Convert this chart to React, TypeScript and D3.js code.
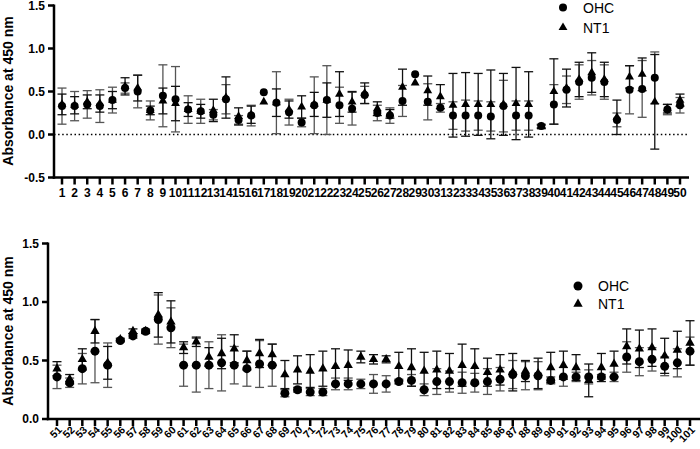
import React from "react";
import * as d3 from "d3";

const topCats = d3.range(1, 51);
const ohcTopMean = [0.33,0.33,0.35,0.33,0.40,0.54,0.50,0.28,0.45,0.41,0.29,0.27,0.23,0.41,0.17,0.22,0.49,0.37,0.26,0.14,0.34,0.40,0.34,0.30,0.46,0.25,0.22,0.39,0.70,0.38,0.31,0.22,0.22,0.22,0.21,0.33,0.22,0.22,0.10,0.35,0.52,0.61,0.66,0.61,0.17,0.52,0.53,0.66,0.29,0.34];
const ohcTopErr = [0.21,0.17,0.16,0.19,0.15,0.06,0.19,0.11,0.36,0.38,0.16,0.14,0.06,0.17,0.05,0.12,0,0.36,0.15,0.05,0.33,0.40,0.21,0.19,0.10,0.09,0.09,0.18,0,0.21,0.05,0.16,0.18,0.17,0.17,0.30,0.17,0.17,0.02,0.23,0.16,0.20,0.20,0.20,0.08,0.28,0.33,0.30,0.06,0.09];
const nt1TopMean = [0.35,0.34,0.38,0.36,0.40,0.56,0.54,0.28,0.39,0.36,0.29,0.27,0.28,0.43,0.21,0.23,0.38,0.37,0.29,0.32,0.35,0.40,0.47,0.38,0.48,0.30,0.24,0.55,0.60,0.51,0.44,0.34,0.35,0.35,0.35,0.35,0.36,0.35,0.09,0.50,0.54,0.64,0.72,0.64,0.20,0.67,0.70,0.38,0.30,0.40];
const nt1TopErr = [0.12,0.10,0.08,0.10,0.10,0.10,0.15,0.05,0.15,0.20,0.08,0.08,0.13,0.24,0.10,0.10,0,0.16,0.10,0.13,0.14,0.20,0.26,0.12,0.12,0.08,0.05,0.21,0,0.17,0.14,0.37,0.37,0.36,0.40,0.36,0.42,0.38,0.02,0.38,0.22,0.20,0.23,0.20,0.20,0.13,0.19,0.55,0.05,0.07];

const botCats = d3.range(51, 102);
const ohcBotMean = [0.36,0.31,0.43,0.58,0.46,0.67,0.71,0.75,0.85,0.78,0.46,0.46,0.46,0.48,0.46,0.43,0.47,0.46,0.22,0.25,0.23,0.23,0.30,0.30,0.30,0.30,0.30,0.32,0.33,0.25,0.32,0.32,0.31,0.31,0.32,0.34,0.38,0.37,0.37,0.33,0.36,0.36,0.36,0.36,0.36,0.53,0.49,0.51,0.45,0.48,0.58];
const ohcBotErr = [0.10,0.04,0.13,0.27,0.19,0.01,0.02,0.02,0.21,0.17,0.18,0.23,0.20,0.24,0.16,0.15,0.20,0.18,0.03,0.02,0.03,0.03,0.05,0.05,0.04,0.08,0.07,0.02,0.05,0.05,0.11,0.09,0.09,0.08,0.11,0.10,0.12,0.12,0.12,0.03,0.08,0.04,0.06,0.02,0.04,0.13,0.12,0.10,0.08,0.12,0.12];
const nt1BotMean = [0.43,0.34,0.51,0.75,0.48,0.68,0.75,0.75,0.89,0.83,0.61,0.66,0.53,0.56,0.60,0.50,0.56,0.55,0.38,0.42,0.41,0.43,0.45,0.46,0.53,0.51,0.51,0.45,0.44,0.41,0.42,0.41,0.46,0.45,0.40,0.42,0.40,0.41,0.39,0.44,0.46,0.44,0.33,0.44,0.47,0.62,0.60,0.61,0.54,0.59,0.65];
const nt1BotErr = [0.06,0.04,0.09,0.10,0.14,0.01,0.02,0.01,0.19,0.18,0.05,0.04,0.08,0.13,0.12,0.08,0.12,0.09,0.12,0.12,0.14,0.15,0.15,0.13,0.05,0.04,0.03,0.12,0.16,0.16,0.16,0.15,0.18,0.15,0.12,0.13,0.16,0.09,0.13,0.13,0.12,0.11,0.14,0.12,0.11,0.15,0.16,0.16,0.15,0.16,0.19];

const topYTicks = [-0.5, 0, 0.5, 1.0, 1.5];
const botYTicks = [0, 0.5, 1.0, 1.5];
const seriesNames = ["OHC", "NT1"];

const FONT = "'Liberation Sans', Arial, sans-serif";

type PanelProps = {
  cats: number[];
  ohcMean: number[]; ohcErr: number[]; nt1Mean: number[]; nt1Err: number[];
  x: d3.ScaleLinear<number, number>;
  y: d3.ScaleLinear<number, number>;
  yTicks: number[];
  axisX: number; axisEnd: number;
  rotate: boolean;
  circleR: number; triSize: number;
  legend: { x: number; y1: number; y2: number };
  zeroLine: boolean;
  labelCenterY: number;
};

function Panel(p: PanelProps) {
  const { x, y } = p;
  const yMin = p.yTicks[0];
  const baseY = y(yMin);
  const tri = d3.symbol(d3.symbolTriangle, p.triSize)() as string;
  const cap = 4.5;
  const errBar = (c: number, m: number, e: number, color: string, key: string) => {
    if (e <= 0.005) return null;
    const cx = x(c);
    const y1 = y(m + e), y2 = y(m - e);
    return (
      <g key={key} stroke={color} strokeWidth={1.3}>
        <line x1={cx} x2={cx} y1={y1} y2={y2} />
        <line x1={cx - cap} x2={cx + cap} y1={y1} y2={y1} />
        <line x1={cx - cap} x2={cx + cap} y1={y2} y2={y2} />
      </g>
    );
  };
  return (
    <g>
      {p.zeroLine && (
        <line x1={p.axisX} x2={p.axisEnd} y1={y(0)} y2={y(0)} stroke="#000" strokeWidth={1.5} strokeDasharray="1.5,2.6" />
      )}
      {p.cats.map((c, i) => errBar(c, p.ohcMean[i], p.ohcErr[i], "#555", "eo" + c))}
      {p.cats.map((c, i) => errBar(c, p.nt1Mean[i], p.nt1Err[i], "#111", "en" + c))}
      {p.cats.map((c, i) => (
        <circle key={"c" + c} cx={x(c)} cy={y(p.ohcMean[i])} r={p.circleR} fill="#000" />
      ))}
      {p.cats.map((c, i) => (
        <path key={"t" + c} d={tri} transform={`translate(${x(c)},${y(p.nt1Mean[i])})`} fill="#000" />
      ))}
      <line x1={p.axisX} x2={p.axisX} y1={y(p.yTicks[p.yTicks.length - 1]) - 1} y2={baseY + 1.2} stroke="#000" strokeWidth={2.5} />
      <line x1={p.axisX - 1.2} x2={p.axisEnd} y1={baseY} y2={baseY} stroke="#000" strokeWidth={2.5} />
      {p.yTicks.map((t) => (
        <g key={"yt" + t}>
          <line x1={p.axisX - 6} x2={p.axisX} y1={y(t)} y2={y(t)} stroke="#000" strokeWidth={2.5} />
          <text x={p.axisX - 9} y={y(t)} dy="0.35em" textAnchor="end" fontFamily={FONT} fontWeight="bold" fontSize={12}>
            {t.toFixed(1)}
          </text>
        </g>
      ))}
      {p.cats.map((c) => (
        <g key={"xt" + c}>
          <line x1={x(c)} x2={x(c)} y1={baseY} y2={baseY + 7} stroke="#000" strokeWidth={2.5} />
          {p.rotate ? (
            <text transform={`translate(${x(c) + 3},${baseY + 9}) rotate(-45)`} textAnchor="end" fontFamily={FONT} fontWeight="bold" fontSize={10.5} dy="0.35em">
              {c}
            </text>
          ) : (
            <text x={x(c)} y={baseY + 19} textAnchor="middle" fontFamily={FONT} fontWeight="bold" fontSize={12}>
              {c}
            </text>
          )}
        </g>
      ))}
      <text transform={`translate(13,${p.labelCenterY}) rotate(-90)`} textAnchor="middle" fontFamily={FONT} fontWeight="bold" fontSize={14}>
        Absorbance at 450 nm
      </text>
      <circle cx={p.legend.x} cy={p.legend.y1} r={p.circleR} fill="#000" />
      <text x={p.legend.x + 20} y={p.legend.y1} dy="0.36em" fontFamily={FONT} fontSize={14}>{seriesNames[0]}</text>
      <path d={tri} transform={`translate(${p.legend.x},${p.legend.y2})`} fill="#000" />
      <text x={p.legend.x + 20} y={p.legend.y2} dy="0.36em" fontFamily={FONT} fontSize={14}>{seriesNames[1]}</text>
    </g>
  );
}

export default function App() {
  const xTop = d3.scaleLinear().domain([1, 50]).range([62, 680]);
  const yTop = d3.scaleLinear().domain([-0.5, 1.5]).range([177.5, 5.5]);
  const xBot = d3.scaleLinear().domain([51, 101]).range([57, 690]);
  const yBot = d3.scaleLinear().domain([0, 1.5]).range([419, 243.5]);
  return (
    <svg width={700} height={449} style={{ position: "absolute", left: 0, top: 0, background: "#fff" }}>
      <rect width={700} height={449} fill="#fff" />
      <Panel
        cats={topCats} ohcMean={ohcTopMean} ohcErr={ohcTopErr} nt1Mean={nt1TopMean} nt1Err={nt1TopErr}
        x={xTop} y={yTop} yTicks={topYTicks} axisX={54} axisEnd={689}
        rotate={false} circleR={4} triSize={34}
        legend={{ x: 563, y1: 7.5, y2: 27.5 }} zeroLine={true} labelCenterY={91}
      />
      <Panel
        cats={botCats} ohcMean={ohcBotMean} ohcErr={ohcBotErr} nt1Mean={nt1BotMean} nt1Err={nt1BotErr}
        x={xBot} y={yBot} yTicks={botYTicks} axisX={48} axisEnd={700}
        rotate={true} circleR={4.5} triSize={38}
        legend={{ x: 578, y1: 286, y2: 304 }} zeroLine={false} labelCenterY={331}
      />
    </svg>
  );
}
